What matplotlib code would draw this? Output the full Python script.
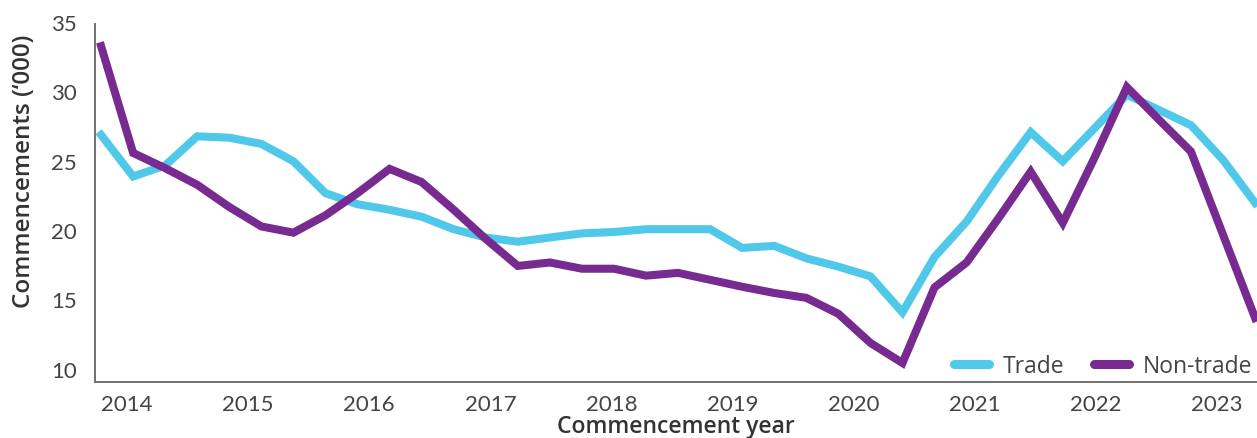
import matplotlib
matplotlib.use("Agg")
import matplotlib.pyplot as plt
from matplotlib.lines import Line2D
import numpy as np

# ---- data (values in '000) ----
trade = [27.0, 24.0, 24.8, 26.9, 26.8, 26.35, 25.1, 22.8, 22.0, 21.6, 21.1,
         20.2, 19.6, 19.3, 19.6, 19.9, 20.0, 20.2, 20.2, 20.2, 18.85, 19.0,
         18.1, 17.5, 16.8, 14.2, 18.2, 20.75, 24.1, 27.2, 25.1, 27.5, 29.9,
         28.8, 27.7, 25.2, 22.1]
non_trade = [33.4, 25.7, 24.6, 23.4, 21.8, 20.4, 19.95, 21.2, 22.8, 24.55, 23.6,
             21.6, 19.5, 17.55, 17.8, 17.35, 17.35, 16.85, 17.05, 16.55, 16.05,
             15.6, 15.25, 14.1, 12.0, 10.55, 16.0, 17.8, 21.0, 24.35, 20.65,
             25.4, 30.45, 28.1, 25.8, 19.8, 13.8]
year_labels = ["2014", "2015", "2016", "2017", "2018", "2019", "2020", "2021", "2022", "2023"]
y_ticks = [10, 15, 20, 25, 30, 35]

TRADE_C = "#4FC8E9"
NONTRADE_C = "#772A8F"
TXT = "#444444"

plt.rcParams['font.family'] = ['Lato', 'DejaVu Sans']

W, H = 1257, 439
fig = plt.figure(figsize=(W / 100, H / 100), dpi=100)
ax = fig.add_axes([95 / W, 1 - 383 / H, (1257 - 95) / W, (383 - 25) / H])

x = np.arange(len(trade))
ax.plot(x, trade, color=TRADE_C, lw=5.8, solid_joinstyle='miter', clip_on=False, zorder=3)
ax.plot(x, non_trade, color=NONTRADE_C, lw=5.8, solid_joinstyle='miter', clip_on=False, zorder=4)

ax.set_xlim(-0.19, 36.06)
ax.set_ylim(9.18, 35)

first_tick, tick_step = 0.81, 3.778
ax.set_xticks([first_tick + k * tick_step for k in range(len(year_labels))])
ax.set_xticklabels(year_labels)
ax.set_yticks(y_ticks)
ax.tick_params(axis='both', length=0, labelsize=16, colors=TXT)
ax.tick_params(axis='x', pad=9)
ax.tick_params(axis='y', pad=13)
for lab in ax.get_yticklabels():
    lab.set_va('center')

for s in ['top', 'right']:
    ax.spines[s].set_visible(False)
for s in ['left', 'bottom']:
    ax.spines[s].set_color('#707070')
    ax.spines[s].set_linewidth(1.4)

title_font = dict(family=['Open Sans', 'DejaVu Sans'], fontsize=17.5, fontweight='semibold', color='#333333')
ax.set_xlabel("Commencement year", fontsize=16.5, labelpad=0,
              **{k: v for k, v in title_font.items() if k != 'fontsize'})
ax.set_ylabel("Commencements (\u2018000)", **title_font)
ax.yaxis.set_label_coords(-0.051, 0.592)

handles = [Line2D([0], [0], color=TRADE_C, lw=6.5, solid_capstyle='round'),
           Line2D([0], [0], color=NONTRADE_C, lw=6.5, solid_capstyle='round')]
leg = ax.legend(handles, ["Trade", "Non-trade"], loc='lower right', ncol=2, frameon=False,
                prop=dict(family=['Open Sans', 'DejaVu Sans'], size=16.5),
                handlelength=1.53, columnspacing=1.3, handletextpad=0.6,
                bbox_to_anchor=(1.014, -0.046), labelcolor=TXT)

fig.savefig("out.png", dpi=100)
